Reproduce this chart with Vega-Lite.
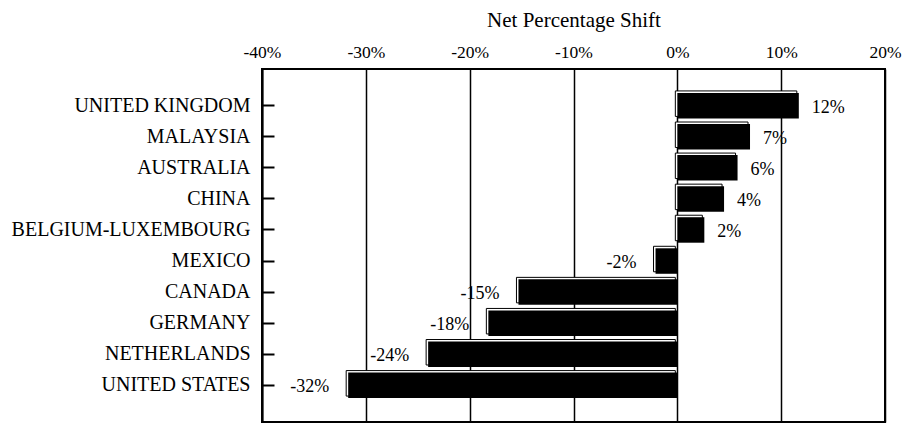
{
  "$schema": "https://vega.github.io/schema/vega-lite/v6.json",
  "autosize": {"type": "none"},
  "padding": {"left": 262, "top": 69, "right": 17, "bottom": 2},
  "width": 623,
  "height": 353,
  "background": "white",
  "config": {
    "view": {"stroke": "black", "strokeWidth": 2},
    "font": "Liberation Serif"
  },
  "data": {
    "values": [
      {"country": "UNITED KINGDOM", "value": 11.7, "label": "12%"},
      {"country": "MALAYSIA", "value": 7.0, "label": "7%"},
      {"country": "AUSTRALIA", "value": 5.8, "label": "6%"},
      {"country": "CHINA", "value": 4.5, "label": "4%"},
      {"country": "BELGIUM-LUXEMBOURG", "value": 2.6, "label": "2%"},
      {"country": "MEXICO", "value": -2.1, "label": "-2%"},
      {"country": "CANADA", "value": -15.3, "label": "-15%"},
      {"country": "GERMANY", "value": -18.2, "label": "-18%"},
      {"country": "NETHERLANDS", "value": -24.0, "label": "-24%"},
      {"country": "UNITED STATES", "value": -31.7, "label": "-32%"}
    ]
  },
  "encoding": {
    "y": {
      "field": "country",
      "type": "nominal",
      "sort": null,
      "scale": {"paddingInner": 0.18, "paddingOuter": 0.77},
      "axis": {
        "title": null,
        "orient": "left",
        "domain": true,
        "domainColor": "black",
        "domainWidth": 2,
        "ticks": true,
        "tickSize": -12,
        "tickColor": "black",
        "tickWidth": 2,
        "labelPadding": 24,
        "labelFont": "Liberation Serif",
        "labelFontSize": 20,
        "labelColor": "black",
        "labelLimit": 400
      }
    },
    "x": {
      "field": "value",
      "type": "quantitative",
      "scale": {"domain": [-40, 20], "nice": false, "zero": false},
      "axis": {
        "orient": "top",
        "values": [-40, -30, -20, -10, 0, 10, 20],
        "labelExpr": "datum.value + '%'",
        "grid": true,
        "gridColor": "black",
        "gridOpacity": 1,
        "gridWidth": 1.5,
        "ticks": false,
        "domain": false,
        "labelPadding": 8,
        "labelFont": "Liberation Serif",
        "labelFontSize": 17.5,
        "labelColor": "black",
        "labelFlush": false,
        "title": "Net Percentage Shift",
        "titleFont": "Liberation Serif",
        "titleFontSize": 21,
        "titleFontWeight": "normal",
        "titleColor": "black",
        "titlePadding": 13
      }
    }
  },
  "layer": [
    {
      "mark": {"type": "bar", "fill": "white", "stroke": "black", "strokeWidth": 1, "xOffset": -2, "x2Offset": -2, "yOffset": -2, "y2Offset": -2}
    },
    {
      "mark": {"type": "bar", "fill": "black", "stroke": null}
    },
    {
      "transform": [{"filter": "datum.value >= 0"}],
      "mark": {"type": "text", "align": "left", "baseline": "middle", "dx": 13, "dy": 2, "fontSize": 18, "font": "Liberation Serif", "color": "black"},
      "encoding": {"text": {"field": "label"}}
    },
    {
      "transform": [{"filter": "datum.value < 0"}],
      "mark": {"type": "text", "align": "right", "baseline": "middle", "dx": -19, "dy": 2, "fontSize": 18, "font": "Liberation Serif", "color": "black"},
      "encoding": {"text": {"field": "label"}}
    }
  ]
}
